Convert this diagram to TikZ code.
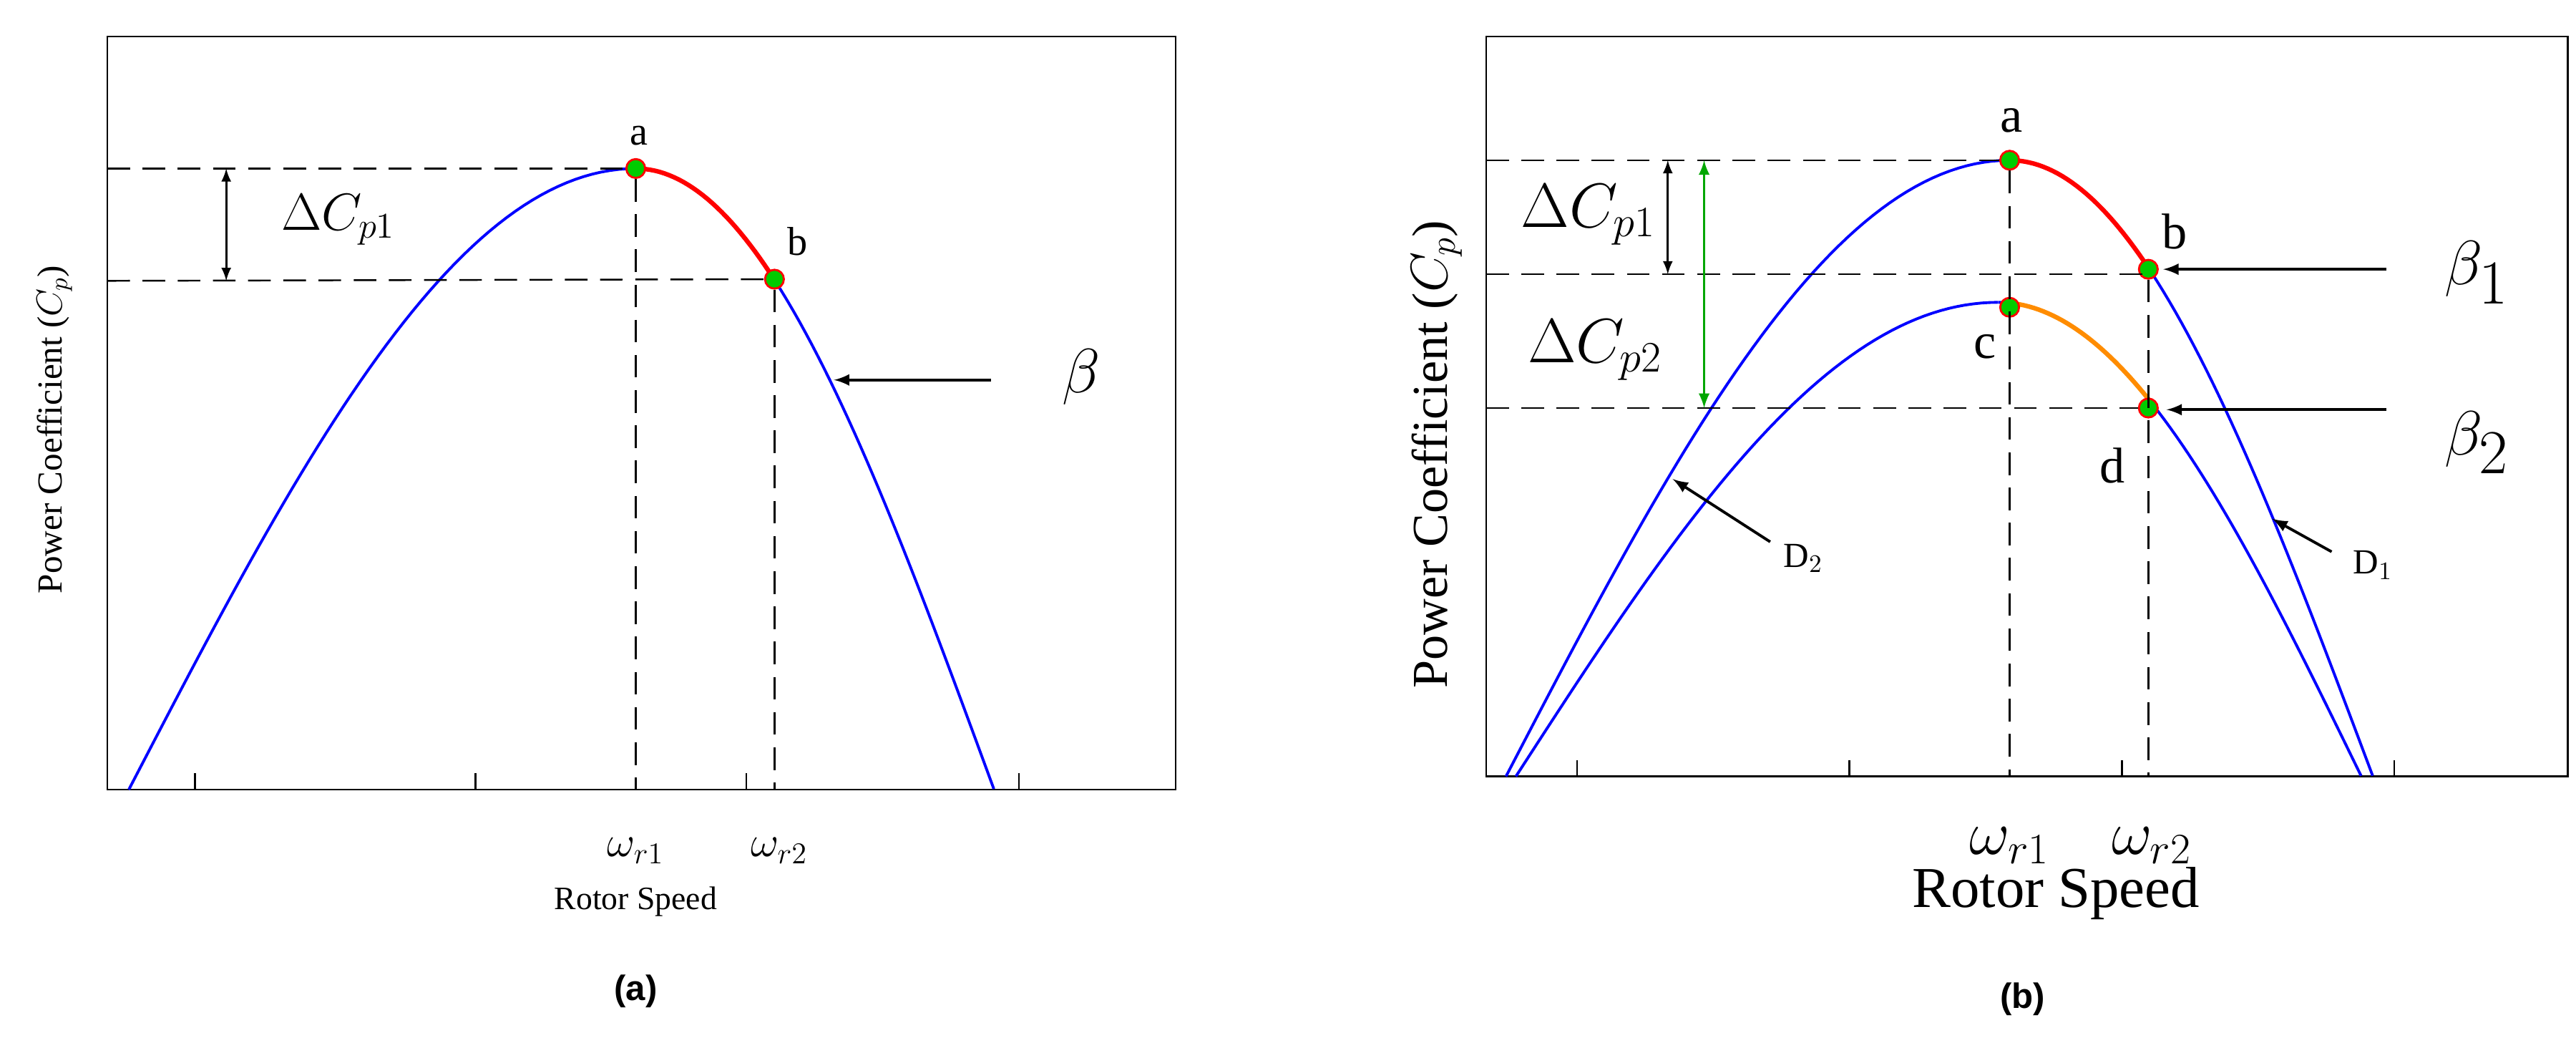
\documentclass[tikz,border=0pt]{standalone}
\usepackage{fontspec}
\setmainfont{Liberation Serif}
\newfontfamily\sansb{Liberation Sans}
\begin{document}
\begin{tikzpicture}[x={(0.02308cm,0)},y={(0,-0.02308cm)},
  dl/.style={dash pattern=on 9pt off 5pt,line width=0.7pt},
  curve/.style={blue,line width=1.1pt},
  pt/.style={circle,draw=red,fill=green!80!black,line width=0.8pt,inner sep=0,minimum size=7.5pt},
  arr/.style={-latex,line width=1.1pt},
  frame/.style={line width=0.7pt}]
\useasboundingbox (0,0) rectangle (1560,634);
% ---------- panel a
\draw[frame] (65,22) rectangle (712,478);
\foreach \t in {118,288,452,617} \draw[frame] (\t,478)--(\t,468);
\draw[curve] plot[domain=0:1,samples=60] ({78+\x*307},{478-376*sin(90*\x)});
\draw[curve] plot[domain=0:1,samples=60] ({385+\x*217},{102+376*(1-cos(90*\x))});
\draw[red,line width=1.8pt] plot[domain=0:0.387,samples=30] ({385+\x*217},{102+376*(1-cos(90*\x))});
\node[pt] (a) at (385,102) {};
\node[pt] (b) at (469,169) {};
\coordinate (ya1) at (65,102); \coordinate (ya2) at (65,170);
\draw[dl] (ya1)--(a); \draw[dl] (ya2)--(b);
\coordinate (xa1) at (385,478); \coordinate (xa2) at (469,478);
\draw[dl] (a)--(xa1); \draw[dl] (b)--(xa2);
\coordinate (da1) at (137,102); \coordinate (da2) at (137,170);
\draw[latex-latex,line width=0.8pt] (da1)--(da2);
\node (dcp) at (205,133) {\fontsize{22}{24}\selectfont $\Delta C_{p1}$};
\node at (387,82) {\fontsize{16}{18}\selectfont a};
\node at (483,146) {\fontsize{16}{18}\selectfont b};
\coordinate (bt) at (600,230); \coordinate (bh) at (505,230);
\draw[arr] (bt)--(bh);
\node at (655,228) {\fontsize{30}{32}\selectfont $\beta$};
\node at (385,515) {\fontsize{18}{20}\selectfont $\omega_{r1}$};
\node at (472,515) {\fontsize{18}{20}\selectfont $\omega_{r2}$};
\node at (385,546) {\fontsize{13}{15}\selectfont Rotor Speed};
\node[rotate=90] at (33,260) {\fontsize{14}{16}\selectfont Power Coefficient ($C_p$)};
\node at (385,600) {\sansb\bfseries\fontsize{14}{16}\selectfont (a)};
% ---------- panel b
\draw[frame] (900,22) rectangle (1555,470);
\foreach \t in {955,1120,1285,1450} \draw[frame] (\t,470)--(\t,460);
\draw[curve] plot[domain=0:1,samples=60] ({912+\x*305},{470-373*sin(90*\x)});
\draw[curve] plot[domain=0:1,samples=60] ({1217+\x*220},{97+373*(1-cos(90*\x))});
\draw[curve] plot[domain=0:1,samples=60] ({918+\x*292},{470-287*sin(90*\x)});
\draw[curve] plot[domain=0:1,samples=60] ({1210+\x*220},{183+287*(1-cos(90*\x))});
\draw[red,line width=1.8pt] plot[domain=0:0.382,samples=30] ({1217+\x*220},{97+373*(1-cos(90*\x))});
\draw[orange!90!yellow,line width=1.8pt] plot[domain=0.032:0.414,samples=30] ({1210+\x*220},{183+287*(1-cos(90*\x))});
\node[pt] (A) at (1217,97) {};
\node[pt] (B) at (1301,163) {};
\node[pt] (C) at (1217,186) {};
\node[pt] (D) at (1301,247) {};
\coordinate (yb1) at (900,97); \coordinate (yb2) at (900,166); \coordinate (yb3) at (900,247);
\coordinate (B2) at (1301,166);
\draw[dl] (yb1)--(A); \draw[dl] (yb2)--(B2); \draw[dl] (yb3)--(D);
\coordinate (xb1) at (1217,470); \coordinate (xb2) at (1301,470);
\draw[dl] (A)--(xb1); \draw[dl] (B)--(xb2);
\coordinate (db1) at (1010,97); \coordinate (db2) at (1010,166);
\draw[latex-latex,line width=0.8pt] (db1)--(db2);
\coordinate (gb1) at (1032,97); \coordinate (gb2) at (1032,247);
\draw[latex-latex,green!65!black,line width=1pt] (gb1)--(gb2);
\node at (962,130) {\fontsize{24}{26}\selectfont $\Delta C_{p1}$};
\node at (966,212) {\fontsize{24}{26}\selectfont $\Delta C_{p2}$};
\node at (1218,73) {\fontsize{20}{22}\selectfont a};
\node at (1317,140) {\fontsize{20}{22}\selectfont b};
\node at (1202,210) {\fontsize{20}{22}\selectfont c};
\node at (1279,282) {\fontsize{20}{22}\selectfont d};
\coordinate (b1t) at (1445,163); \coordinate (b1h) at (1310,163);
\draw[arr] (b1t)--(b1h);
\node at (1500,165) {\fontsize{34}{36}\selectfont $\beta_1$};
\coordinate (b2t) at (1445,248); \coordinate (b2h) at (1312,248);
\draw[arr] (b2t)--(b2h);
\node at (1500,268) {\fontsize{34}{36}\selectfont $\beta_2$};
\coordinate (d2t) at (1072,328); \coordinate (d2h) at (1013,290);
\draw[arr] (d2t)--(d2h);
\node at (1092,338) {\fontsize{14}{16}\selectfont D$_2$};
\coordinate (d1t) at (1412,334); \coordinate (d1h) at (1376,314);
\draw[arr] (d1t)--(d1h);
\node at (1437,342) {\fontsize{14}{16}\selectfont D$_1$};
\node at (1217,512) {\fontsize{24}{26}\selectfont $\omega_{r1}$};
\node at (1303,512) {\fontsize{24}{26}\selectfont $\omega_{r2}$};
\node at (1245,541) {\fontsize{23}{25}\selectfont Rotor Speed};
\node[rotate=90] at (870,275) {\fontsize{20}{22}\selectfont Power Coefficient ($C_p$)};
\node at (1225,605) {\sansb\bfseries\fontsize{14}{16}\selectfont (b)};
\end{tikzpicture}
\end{document}
